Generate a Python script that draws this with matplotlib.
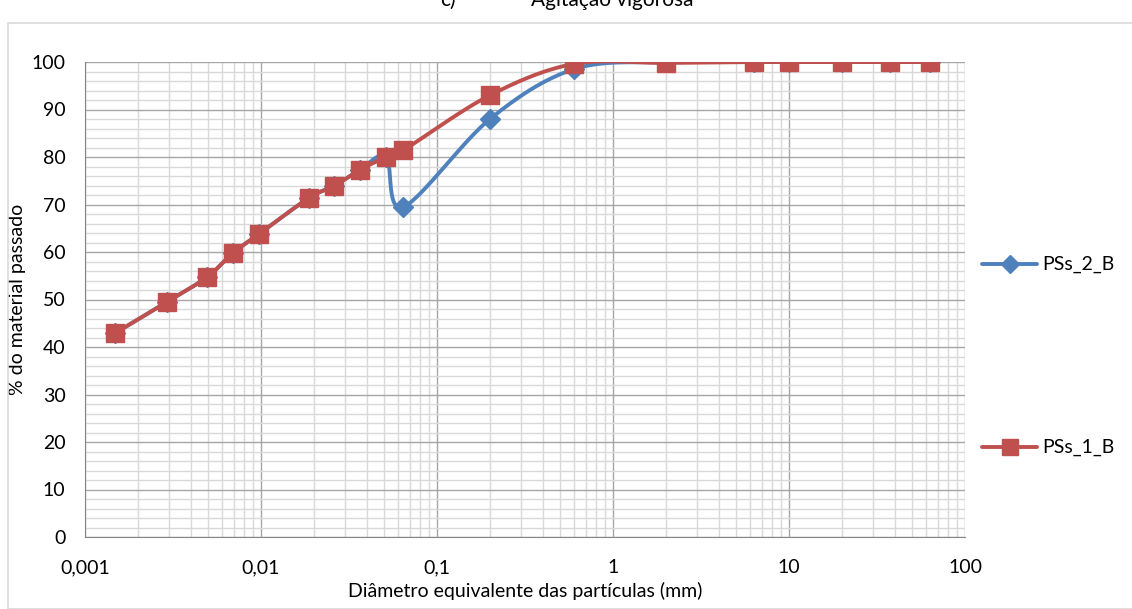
import numpy as np
import matplotlib
matplotlib.use("Agg")
import matplotlib.pyplot as plt
from matplotlib.ticker import FixedLocator, FuncFormatter, MultipleLocator

plt.rcParams['font.family'] = ['Lato', 'DejaVu Sans']

# data
diam_1 = [0.00148, 0.00292, 0.00493, 0.00693, 0.00975, 0.01875, 0.026, 0.0365,
          0.0513, 0.0642, 0.2, 0.6, 2.0, 6.3, 10.0, 20.0, 37.5, 63.0]
pct_1 = [42.9, 49.5, 54.7, 59.8, 63.8, 71.4, 73.9, 77.3, 80.0, 81.4, 93.0, 99.6,
         99.8, 100, 100, 100, 100, 100]
diam_2 = [0.00148, 0.00292, 0.00493, 0.00693, 0.00975, 0.01875, 0.026, 0.0365,
          0.0513, 0.0642, 0.2, 0.6, 2.0, 6.3, 10.0, 20.0, 37.5, 63.0]
pct_2 = [42.9, 49.5, 54.7, 59.8, 63.8, 71.4, 73.9, 77.3, 80.0, 69.5, 88.0, 98.5,
         100, 100, 100, 100, 100, 100]

blue = '#4F81BD'
red = '#C0504D'


# excel-like smoothed line (catmull-rom in screen units)
def smooth(xs, ys, n=30):
    u = np.log10(np.array(xs)) * 176.0
    v = np.array(ys) * 4.75
    pts = np.column_stack([u, v])
    pts = np.vstack([pts[0], pts, pts[-1]])
    out = []
    for i in range(1, len(pts) - 2):
        p0, p1, p2, p3 = pts[i - 1], pts[i], pts[i + 1], pts[i + 2]
        t = np.linspace(0, 1, n)[:, None]
        c1 = p1 + (p2 - p0) / 6.0
        c2 = p2 - (p3 - p1) / 6.0
        seg = ((1 - t) ** 3) * p1 + 3 * ((1 - t) ** 2) * t * c1 + 3 * (1 - t) * t ** 2 * c2 + t ** 3 * p2
        out.append(seg)
    out = np.vstack(out)
    return 10 ** (out[:, 0] / 176.0), out[:, 1] / 4.75


fig = plt.figure(figsize=(11.32, 6.09), dpi=100)
ax = fig.add_axes([85 / 1132, 1 - 537 / 609, 880 / 1132, 475 / 609])

sx, sy = smooth(diam_2, pct_2)
ax.plot(sx, sy, color=blue, lw=2.8, zorder=3, solid_capstyle='round')
ax.plot(diam_2, pct_2, ls='none', marker='D', ms=10, color=blue, zorder=3)
sx, sy = smooth(diam_1, pct_1)
ax.plot(sx, sy, color=red, lw=2.8, zorder=4, solid_capstyle='round')
ax.plot(diam_1, pct_1, ls='none', marker='s', ms=13, color=red, zorder=4)

ax.set_xscale('log')
ax.set_xlim(0.001, 100)
ax.set_ylim(0, 100)
ax.xaxis.set_major_locator(FixedLocator([0.001, 0.01, 0.1, 1, 10, 100]))
minors = [m * 10.0 ** e for e in range(-3, 2) for m in range(2, 10)]
ax.xaxis.set_minor_locator(FixedLocator(minors))
ax.xaxis.set_major_formatter(FuncFormatter(lambda v, p: ('%g' % v).replace('.', ',')))
ax.xaxis.set_minor_formatter(FuncFormatter(lambda v, p: ''))
ax.yaxis.set_major_locator(MultipleLocator(10))
ax.yaxis.set_minor_locator(MultipleLocator(2))

ax.grid(which='major', color='#a6a6a6', lw=1.0)
ax.grid(which='minor', color='#d9d9d9', lw=1.0)
ax.set_axisbelow(True)
ax.tick_params(which='both', length=0, labelsize=14, colors='black')
ax.tick_params(axis='x', pad=16)
ax.tick_params(axis='y', pad=14)
for s in ['top', 'right']:
    ax.spines[s].set_visible(False)
for s in ['left', 'bottom']:
    ax.spines[s].set_color('#868686')

ax.set_xlabel('Diâmetro equivalente das partículas (mm)', fontsize=14, labelpad=4)
ax.set_ylabel('% do material passado', fontsize=14, labelpad=4)

fig.text(440 / 1132, 1.0, 'c)', fontsize=15, ha='left', va='center')
fig.text(531 / 1132, 1.0, 'Agitação vigorosa', fontsize=15, ha='left', va='center')

# legend entries drawn by hand in figure coords
for yy, col, mk, ms, lab in [(264, blue, 'D', 9, 'PSs_2_B'), (447, red, 's', 12, 'PSs_1_B')]:
    fy = 1 - yy / 609
    fig.add_artist(plt.Line2D([982 / 1132, 1037 / 1132], [fy, fy], color=col, lw=2.8,
                              solid_capstyle='round'))
    fig.add_artist(plt.Line2D([1010 / 1132], [fy], color=col, marker=mk, ms=ms, ls='none'))
    fig.text(1042 / 1132, fy, lab, fontsize=14, ha='left', va='center')

# chart frame
fig.add_artist(plt.Rectangle((8 / 1132, 0), 1.0, 1 - 23 / 609, fill=False,
                             edgecolor='#d9d9d9', lw=1.2, transform=fig.transFigure))

fig.savefig('out.png', dpi=100)
